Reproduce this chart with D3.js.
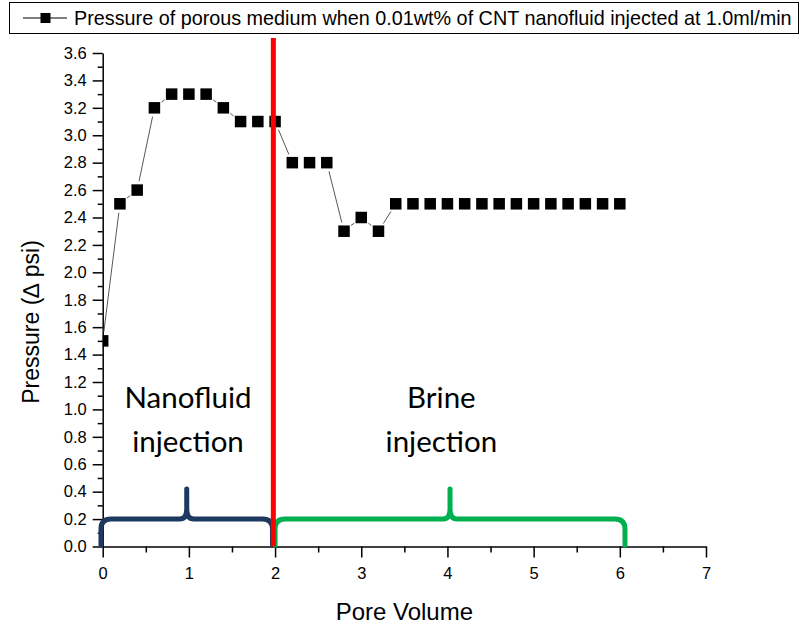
<!DOCTYPE html>
<html>
<head>
<meta charset="utf-8">
<script src="https://cdn.jsdelivr.net/npm/d3@7"></script>
<style>
  html, body { margin: 0; padding: 0; background: #fff; }
  svg { display: block; }
</style>
</head>
<body>
<svg id="chart" width="803" height="631"></svg>
<script>
// Pore volumes injected and measured pressure drop across the core
const poreVolume = [0.0, 0.2, 0.4, 0.6, 0.8, 1.0, 1.2, 1.4, 1.6, 1.8, 2.0,
                    2.2, 2.4, 2.6, 2.8, 3.0, 3.2, 3.4, 3.6, 3.8, 4.0, 4.2,
                    4.4, 4.6, 4.8, 5.0, 5.2, 5.4, 5.6, 5.8, 6.0];
const pressure = [1.5, 2.5, 2.6, 3.2, 3.3, 3.3, 3.3, 3.2, 3.1, 3.1, 3.1,
                  2.8, 2.8, 2.8, 2.3, 2.4, 2.3, 2.5, 2.5, 2.5, 2.5, 2.5,
                  2.5, 2.5, 2.5, 2.5, 2.5, 2.5, 2.5, 2.5, 2.5];

const xTickValues = [0, 1, 2, 3, 4, 5, 6, 7];
const xMinorTicks = [0.5, 1.5, 2.5, 3.5, 4.5, 5.5, 6.5];
const yTickValues = [0.0, 0.2, 0.4, 0.6, 0.8, 1.0, 1.2, 1.4, 1.6, 1.8,
                     2.0, 2.2, 2.4, 2.6, 2.8, 3.0, 3.2, 3.4, 3.6];
const yMinorTicks = [0.1, 0.3, 0.5, 0.7, 0.9, 1.1, 1.3, 1.5, 1.7, 1.9,
                     2.1, 2.3, 2.5, 2.7, 2.9, 3.1, 3.3, 3.5];

const seriesName = "Pressure of porous medium when 0.01wt% of CNT nanofluid injected at 1.0ml/min";

// Switch from nanofluid to brine, and the two injection stages
const switchPoint = 1.98;
const stages = [
  { label: ["Nanofluid", "injection"], labelAt: 0.99, start: -0.02, mid: 0.975, end: 1.97, color: "#1d3960" },
  { label: ["Brine", "injection"], labelAt: 3.93, start: 2.0, mid: 4.03, end: 6.06, color: "#00b050" }
];

const svg = d3.select("#chart");
const axisFont = "'Liberation Sans', Arial, sans-serif";

const x = d3.scaleLinear().domain([0, 7]).range([102.7, 706]);
const y = d3.scaleLinear().domain([0, 3.6]).range([546.5, 53]);

// ---- axes ----
svg.append("g")
  .attr("transform", `translate(0,${y(0)})`)
  .call(d3.axisBottom(x).tickValues(xTickValues).tickSize(11).tickSizeOuter(0)
          .tickPadding(10).tickFormat(d3.format("d")));
const xMinor = svg.append("g")
  .attr("transform", `translate(0,${y(0)})`)
  .call(d3.axisBottom(x).tickValues(xMinorTicks).tickSize(6).tickFormat(""));
xMinor.select(".domain").remove();

svg.append("g")
  .attr("transform", `translate(${x(0)},0)`)
  .call(d3.axisLeft(y).tickValues(yTickValues).tickSize(10).tickSizeOuter(0)
          .tickPadding(6).tickFormat(d3.format(".1f")));
const yMinor = svg.append("g")
  .attr("transform", `translate(${x(0)},0)`)
  .call(d3.axisLeft(y).tickValues(yMinorTicks).tickSize(5).tickFormat(""));
yMinor.select(".domain").remove();

svg.selectAll(".domain, .tick line").attr("stroke", "#000").attr("stroke-width", 1.5);
svg.selectAll(".tick text")
  .attr("font-family", axisFont).attr("font-size", 16.5).attr("fill", "#000");

// axis titles
svg.append("text")
  .attr("x", x(3.5)).attr("y", 620)
  .attr("text-anchor", "middle")
  .attr("font-family", axisFont).attr("font-size", 24)
  .text("Pore Volume");
svg.append("text")
  .attr("transform", `translate(39,322) rotate(-90)`)
  .attr("text-anchor", "middle")
  .attr("font-family", axisFont).attr("font-size", 23)
  .text("Pressure (\u2206 psi)");

// ---- data series ----
svg.append("defs").append("clipPath").attr("id", "plotClip")
  .append("rect")
  .attr("x", x(0)).attr("y", 0)
  .attr("width", x(7) - x(0) + 20).attr("height", y(0) + 10);

const plot = svg.append("g").attr("clip-path", "url(#plotClip)");
const pts = poreVolume.map((v, i) => [x(v), y(pressure[i])]);

// connecting lines stop short of each marker
const gap = 9;
const segs = d3.pairs(pts).map(([a, b]) => {
  const dx = b[0] - a[0], dy = b[1] - a[1];
  const len = Math.hypot(dx, dy);
  if (len <= 2 * gap) return null;
  const ux = dx / len, uy = dy / len;
  return [[a[0] + ux * gap, a[1] + uy * gap], [b[0] - ux * gap, b[1] - uy * gap]];
}).filter(Boolean);

plot.selectAll("line.seg").data(segs).join("line")
  .attr("class", "seg")
  .attr("x1", d => d[0][0]).attr("y1", d => d[0][1])
  .attr("x2", d => d[1][0]).attr("y2", d => d[1][1])
  .attr("stroke", "#444").attr("stroke-width", 0.9);

const markerSize = 11.5;
plot.selectAll("rect.pt").data(poreVolume).join("rect")
  .attr("class", "pt")
  .attr("x", (d) => x(d) - markerSize / 2)
  .attr("y", (d, i) => y(pressure[i]) - markerSize / 2)
  .attr("width", markerSize).attr("height", markerSize)
  .attr("fill", "#000");

// ---- stage braces ----
function bracePath(s) {
  const x0 = x(s.start), xm = x(s.mid), x1 = x(s.end);
  const yb = y(0.01), yl = y(0.2), yp = y(0.42);
  const r = 10, c = 7;
  return [
    `M${x0},${yb}`, `L${x0},${yl + r}`, `Q${x0},${yl} ${x0 + r},${yl}`,
    `L${xm - c},${yl}`, `C${xm - 1.5},${yl} ${xm},${yl - 4} ${xm},${yl - 10}`, `L${xm},${yp}`,
    `M${xm},${yl - 10}`, `C${xm},${yl - 4} ${xm + 1.5},${yl} ${xm + c},${yl}`,
    `L${x1 - r},${yl}`, `Q${x1},${yl} ${x1},${yl + r}`, `L${x1},${yb}`
  ].join(" ");
}
svg.selectAll("path.brace").data(stages).join("path")
  .attr("class", "brace")
  .attr("d", bracePath)
  .attr("fill", "none")
  .attr("stroke", d => d.color)
  .attr("stroke-width", 5)
  .attr("stroke-linecap", "round")
  .attr("stroke-linejoin", "round");

// stage captions
const labelFont = "Lato, 'Open Sans', sans-serif";
svg.selectAll("text.stage").data(stages).join("text")
  .attr("class", "stage")
  .attr("text-anchor", "middle")
  .attr("font-family", labelFont).attr("font-size", 29.5)
  .attr("fill", "#000")
  .each(function (d) {
    const t = d3.select(this);
    d.label.forEach((line, i) => {
      t.append("tspan").attr("x", x(d.labelAt)).attr("y", 408 + i * 44).text(line);
    });
  });

// injection switch marker
svg.append("line")
  .attr("x1", x(switchPoint)).attr("x2", x(switchPoint))
  .attr("y1", 38).attr("y2", y(0))
  .attr("stroke", "#ff0000").attr("stroke-width", 5);

// ---- legend ----
const legend = svg.append("g");
legend.append("rect")
  .attr("x", 9.5).attr("y", 2.5).attr("width", 789).attr("height", 31)
  .attr("fill", "#fff").attr("stroke", "#000").attr("stroke-width", 1);
legend.append("line")
  .attr("x1", 23).attr("x2", 67).attr("y1", 18).attr("y2", 18)
  .attr("stroke", "#000").attr("stroke-width", 1);
legend.append("rect")
  .attr("x", 45.5 - 5).attr("y", 18 - 5).attr("width", 10).attr("height", 10)
  .attr("fill", "#000");
legend.append("text")
  .attr("x", 74).attr("y", 25)
  .attr("font-family", axisFont).attr("font-size", 19.8)
  .text(seriesName);
</script>
</body>
</html>
